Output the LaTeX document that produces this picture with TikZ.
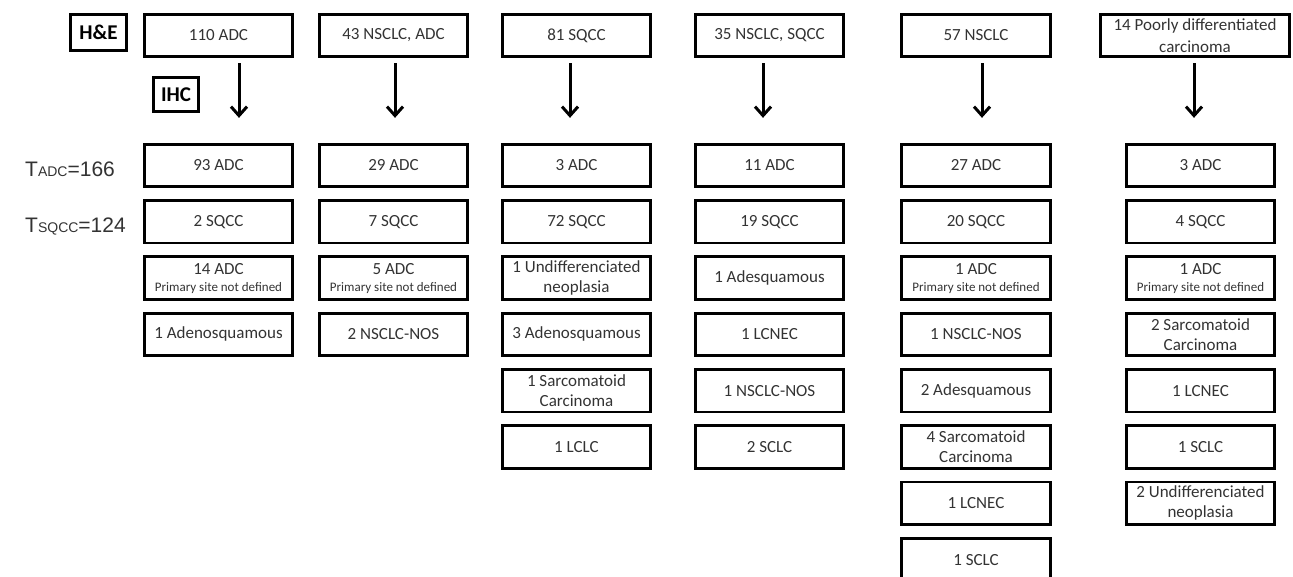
\documentclass[tikz,border=0pt]{standalone}
\usepackage{fontspec}
\setmainfont{Carlito}
\newfontfamily\arialfont{Liberation Sans}
\usetikzlibrary{arrows.meta,positioning}
\definecolor{cellink}{HTML}{333333}
\tikzset{
  cell/.style={rectangle,draw=black,line width=2.8pt,text=cellink,align=center,
    minimum width=148.5pt,minimum height=42.5pt,inner sep=1pt,
    font=\fontsize{17}{20}\selectfont},
  widecell/.style={cell,minimum width=189pt},
  stain/.style={rectangle,draw=black,line width=2.8pt,text=black,inner sep=0pt,
    font=\fontsize{21}{24}\selectfont\bfseries},
  total/.style={anchor=base west,inner sep=0pt,text=cellink,
    font=\arialfont\fontsize{21}{24}\selectfont},
  flow/.style={-{Straight Barb[length=9pt,width=16pt]},line width=3pt,draw=black,
    shorten <=5pt,shorten >=25pt}
}
\newcommand{\primsite}{\\[-3pt]{\fontsize{13}{15}\selectfont Primary site not defined}}
\newcommand{\smallsc}[1]{{\fontsize{14}{16}\selectfont #1}}

\begin{document}
\begin{tikzpicture}[x=1pt,y=-1pt,node distance=11pt]
  \useasboundingbox (0,0) rectangle (1293,577);
  % staining and totals
  \node[stain,minimum width=56pt,minimum height=36pt] (he) at (98.5,32.5) {H\&E};
  \node[stain,minimum width=45pt,minimum height=34pt] (ihc) at (176,94.5) {IHC};
  \node[total] (tadc) at (25,177) {T\smallsc{ADC}=166};
  \node[total] (tsqcc) at (25,233) {T\smallsc{SQCC}=124};
  % H&E diagnoses
  \node[cell] (top1) at (218.5,35.5) {110 ADC};
  \node[cell] (top2) at (393.5,35.5) {43 NSCLC, ADC};
  \node[cell] (top3) at (576.5,35.5) {81 SQCC};
  \node[cell] (top4) at (769.5,35.5) {35 NSCLC, SQCC};
  \node[cell] (top5) at (976,35.5) {57 NSCLC};
  \node[widecell] (top6) at (1195,35.5) {14 Poorly differentiated\\[2pt]carcinoma};
  % IHC, column 1
  \node[cell] (a1) at (218.5,165.5) {93 ADC};
  \node[cell,below=of a1] (b1) {2 SQCC};
  \node[cell,below=of b1] (c1) {14 ADC\primsite};
  \node[cell,below=of c1] (d1) {1 Adenosquamous};
  % column 2
  \node[cell] (a2) at (393.5,165.5) {29 ADC};
  \node[cell,below=of a2] (b2) {7 SQCC};
  \node[cell,below=of b2] (c2) {5 ADC\primsite};
  \node[cell,below=of c2] (d2) {2 NSCLC-NOS};
  % column 3
  \node[cell] (a3) at (576.5,165.5) {3 ADC};
  \node[cell,below=of a3] (b3) {72 SQCC};
  \node[cell,below=of b3] (c3) {1 Undifferenciated\\neoplasia};
  \node[cell,below=of c3] (d3) {3 Adenosquamous};
  \node[cell,below=of d3] (e3) {1 Sarcomatoid\\Carcinoma};
  \node[cell,below=of e3] (f3) {1 LCLC};
  % column 4
  \node[cell] (a4) at (769.5,165.5) {11 ADC};
  \node[cell,below=of a4] (b4) {19 SQCC};
  \node[cell,below=of b4] (c4) {1 Adesquamous};
  \node[cell,below=of c4] (d4) {1 LCNEC};
  \node[cell,below=of d4] (e4) {1 NSCLC-NOS};
  \node[cell,below=of e4] (f4) {2 SCLC};
  % column 5
  \node[cell] (a5) at (976,165.5) {27 ADC};
  \node[cell,below=of a5] (b5) {20 SQCC};
  \node[cell,below=of b5] (c5) {1 ADC\primsite};
  \node[cell,below=of c5] (d5) {1 NSCLC-NOS};
  \node[cell,below=of d5] (e5) {2 Adesquamous};
  \node[cell,below=of e5] (f5) {4 Sarcomatoid\\Carcinoma};
  \node[cell,below=of f5] (g5) {1 LCNEC};
  \node[cell,below=of g5] (h5) {1 SCLC};
  % column 6
  \node[cell] (a6) at (1200.5,165.5) {3 ADC};
  \node[cell,below=of a6] (b6) {4 SQCC};
  \node[cell,below=of b6] (c6) {1 ADC\primsite};
  \node[cell,below=of c6] (d6) {2 Sarcomatoid\\Carcinoma};
  \node[cell,below=of d6] (e6) {1 LCNEC};
  \node[cell,below=of e6] (f6) {1 SCLC};
  \node[cell,below=of f6] (g6) {2 Undifferenciated\\neoplasia};
  % arrows
  \draw[flow] ([xshift=20.5pt]top1.south) -- ([xshift=20.5pt]a1.north);
  \draw[flow] ([xshift=1.5pt]top2.south) -- ([xshift=1.5pt]a2.north);
  \draw[flow] ([xshift=-6.5pt]top3.south) -- ([xshift=-6.5pt]a3.north);
  \draw[flow] ([xshift=-6.5pt]top4.south) -- ([xshift=-6.5pt]a4.north);
  \draw[flow] ([xshift=6pt]top5.south) -- ([xshift=6pt]a5.north);
  \draw[flow] ([xshift=-1pt]top6.south) -- ([xshift=-6.5pt]a6.north);
\end{tikzpicture}
\end{document}
